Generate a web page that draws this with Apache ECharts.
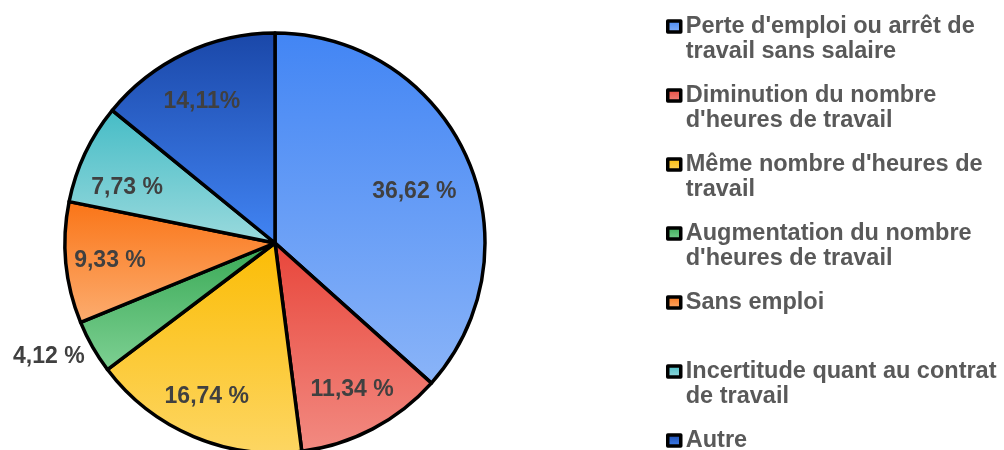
<!DOCTYPE html>
<html>
<head>
<meta charset="utf-8">
<script src="https://cdn.jsdelivr.net/npm/echarts@6/dist/echarts.min.js"></script>
<style>
  * { margin: 0; padding: 0; }
  body { background: #fff; }
</style>
</head>
<body>
<!-- conteneur du graphique -->
<div id="main" style="width: 1004px; height: 450px"></div>
<script>
// données
var categories = [
  "Perte d'emploi ou arrêt de travail sans salaire",
  "Diminution du nombre d'heures de travail",
  "Même nombre d'heures de travail",
  "Augmentation du nombre d'heures de travail",
  "Sans emploi",
  "Incertitude quant au contrat de travail",
  "Autre"
];
var values = [36.62, 11.34, 16.74, 4.12, 9.33, 7.73, 14.11];
var valueLabels = ["36,62 %", "11,34 %", "16,74 %", "4,12 %", "9,33 %", "7,73 %", "14,11%"];
// texte de la légende, coupé sur deux lignes
var legendLines = [
  "Perte d'emploi ou arrêt de\ntravail sans salaire",
  "Diminution du nombre\nd'heures de travail",
  "Même nombre d'heures de\ntravail",
  "Augmentation du nombre\nd'heures de travail",
  "Sans emploi\n ",
  "Incertitude quant au contrat\nde travail",
  "Autre\n "
];
// dégradés haut -> bas
var topColors = ["#4285F4", "#E8453A", "#FBBC04", "#38A955", "#FA7416", "#45BCC6", "#1A47A8"];
var bottomColors = ["#8AB4F8", "#F28B82", "#FDD663", "#7ED093", "#FCAD70", "#9BDADD", "#4285F4"];
// petit décalage des étiquettes (dx, dy) pour suivre l'original
var labelShift = [[-12, 16], [0, 0], [-4, 1], [3, 5], [0, 2], [2, 15], [-2, 8]];

var FONT = "'Liberation Sans', Arial, sans-serif";
var R = 210;

var mainData = [];
var labelData = [];
for (var i = 0; i < categories.length; i++) {
  mainData.push({
    name: categories[i],
    value: values[i],
    itemStyle: {
      color: new echarts.graphic.LinearGradient(0, 0, 0, 1, [
        { offset: 0, color: topColors[i] },
        { offset: 1, color: bottomColors[i] }
      ])
    }
  });
  var item = { name: categories[i], value: values[i] };
  if (i === 3) {
    // petite part : étiquette à l'extérieur
    item.label = { position: "outside", distanceToLabelLine: 3 };
    item.labelLine = { show: false, length: 9, length2: 0 };
  }
  labelData.push(item);
}

var chart = echarts.init(document.getElementById("main"));
chart.setOption({
  animation: false,
  legend: {
    orient: "vertical",
    left: 666,
    top: -11,
    height: 560,
    padding: 0,
    itemGap: -6,
    itemWidth: 13,
    itemHeight: 11,
    icon: "rect",
    selectedMode: false,
    data: categories,
    itemStyle: { borderColor: "#000", borderWidth: 3.5 },
    formatter: function (name) {
      // ligne vide en tête : l'icône tombe sur la première ligne
      return "\n" + legendLines[categories.indexOf(name)];
    },
    textStyle: {
      fontFamily: FONT,
      fontWeight: "bold",
      fontSize: 23.5,
      lineHeight: 25,
      color: "#595959"
    }
  },
  series: [
    {
      type: "pie",
      center: [275, 243],
      radius: [0, R],
      startAngle: 90,
      clockwise: true,
      silent: true,
      label: { show: false },
      labelLine: { show: false },
      itemStyle: { borderColor: "#000", borderWidth: 3.5 },
      data: mainData
    },
    {
      // série transparente qui ne porte que les étiquettes
      type: "pie",
      center: [275, 243],
      radius: [R * 0.55, R],
      startAngle: 90,
      clockwise: true,
      silent: true,
      itemStyle: { color: "rgba(0,0,0,0)", borderWidth: 0 },
      label: {
        show: true,
        position: "inside",
        fontFamily: FONT,
        fontWeight: "bold",
        fontSize: 23,
        color: "#404040",
        formatter: function (p) {
          return valueLabels[p.dataIndex];
        }
      },
      labelLayout: function (p) {
        return { dx: labelShift[p.dataIndex][0], dy: labelShift[p.dataIndex][1] };
      },
      labelLine: { show: false },
      data: labelData
    }
  ]
});
</script>
</body>
</html>
